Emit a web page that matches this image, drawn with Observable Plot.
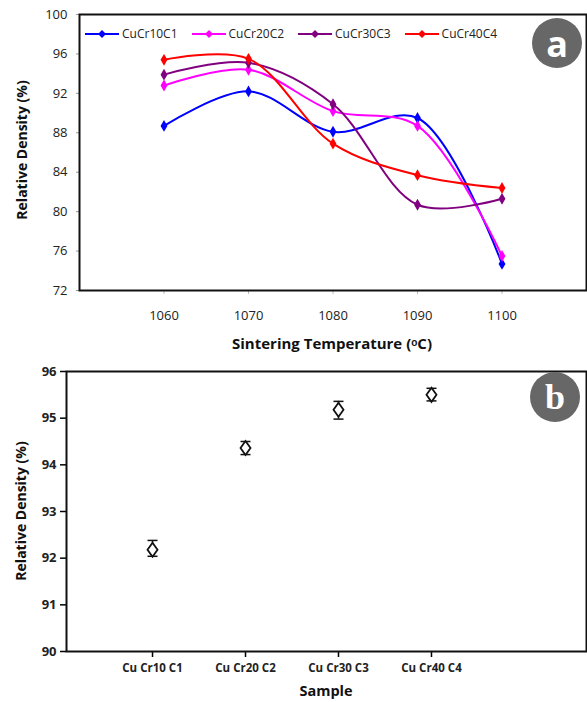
<!DOCTYPE html>
<html>
<head>
<meta charset="utf-8">
<script src="https://cdn.jsdelivr.net/npm/d3@7"></script>
<script src="https://cdn.jsdelivr.net/npm/@observablehq/plot@0.6"></script>
<style>
  body { margin: 0; background: #fff; font-family: "Open Sans", sans-serif; }
  #wrap { position: relative; width: 587px; height: 702px; overflow: hidden; }
  #wrap > svg { display: block; }
  #overlay { position: absolute; left: 0; top: 0; pointer-events: none; }
  .legend { position: absolute; left: 85px; top: 25px; display: flex; align-items: center; font-size: 12px; color: #222; }
  .legend .item { display: flex; align-items: center; margin-right: 14px; }
  .legend svg { margin-right: 3px; }
  .badge { position: absolute; width: 50px; height: 50px; border-radius: 50%; background: #676767; color: #fff; display: flex; align-items: center; justify-content: center; font-weight: bold; }
</style>
</head>
<body>
<div id="wrap"></div>
<script>
// ---------- Data ----------
const temps = [1060, 1070, 1080, 1090, 1100];
const seriesNames = ["CuCr10C1", "CuCr20C2", "CuCr30C3", "CuCr40C4"];
const seriesColors = ["#0000ff", "#ff00ff", "#800080", "#ff0000"];
const cu10 = [88.7, 92.2, 88.1, 89.5, 74.7];
const cu20 = [92.8, 94.4, 90.2, 88.7, 75.5];
const cu30 = [93.9, 95.1, 90.9, 80.7, 81.3];
const cu40 = [95.4, 95.5, 86.9, 83.7, 82.4];
const yTicksA = [72, 76, 80, 84, 88, 92, 96, 100];
const xTicksA = [1060, 1070, 1080, 1090, 1100];

const samples = ["Cu Cr10 C1", "Cu Cr20 C2", "Cu Cr30 C3", "Cu Cr40 C4"];
const density = [92.18, 94.36, 95.18, 95.5];
const errLow = [92.04, 94.22, 94.98, 95.37];
const errHigh = [92.38, 94.50, 95.36, 95.64];
const yTicksB = [90, 91, 92, 93, 94, 95, 96];

// ---------- Build tables ----------
const allSeries = [cu10, cu20, cu30, cu40];
const rowsA = [];
allSeries.forEach((vals, s) => vals.forEach((v, i) => rowsA.push({series: seriesNames[s], t: temps[i], v})));
const rowsB = samples.map((s, i) => ({i, s, v: density[i], lo: errLow[i], hi: errHigh[i]}));

const tallDiamond = {draw(ctx) { ctx.moveTo(0, -7); ctx.lineTo(5, 0); ctx.lineTo(0, 7); ctx.lineTo(-5, 0); ctx.closePath(); }};
const capLine = {draw(ctx) { ctx.moveTo(-5, 0); ctx.lineTo(5, 0); }};

const wrap = document.getElementById("wrap");
const FONT = "'Open Sans', sans-serif";

// ---------- Panel a ----------
const plotA = Plot.plot({
  width: 587, height: 358,
  marginLeft: 79, marginTop: 14, marginRight: 1, marginBottom: 68,
  style: {fontFamily: FONT, background: "#fff"},
  x: {domain: [1050, 1110]},
  y: {domain: [72, 100]},
  color: {domain: seriesNames, range: seriesColors},
  marks: [
    Plot.axisY({ticks: yTicksA, tickSize: 3, stroke: "#999", fontSize: 13, fill: "#222", tickPadding: 9, label: null}),
    Plot.axisX({ticks: xTicksA, tickSize: 4, stroke: "#bbb", fontSize: 13, fill: "#222", tickPadding: 16,
      tickFormat: d => String(d), label: null}),
    Plot.line(rowsA, {x: "t", y: "v", z: "series", stroke: "series", strokeWidth: 2, curve: "catmull-rom"}),
    Plot.dot(rowsA, {x: "t", y: "v", fill: "series", symbol: "diamond", r: 3.6}),
    Plot.frame({stroke: "#111", strokeWidth: 2})
  ]
});
wrap.appendChild(plotA);

// ---------- Panel b ----------
const plotB = Plot.plot({
  width: 587, height: 344,
  marginLeft: 66, marginTop: 13, marginRight: 1, marginBottom: 51,
  style: {fontFamily: FONT, background: "#fff"},
  x: {domain: [-0.925, 4.667]},
  y: {domain: [90, 96]},
  marks: [
    Plot.axisY({ticks: yTicksB, tickSize: 6, stroke: "#000", strokeWidth: 1.5, fontSize: 13, fontWeight: "bold", fill: "#222", tickPadding: 4,
      tickFormat: d => String(d), label: null}),
    Plot.axisX({ticks: d3.range(samples.length), tickSize: 6, stroke: "#000", strokeWidth: 1.5, fontSize: 11.5, fontWeight: "bold", fill: "#222", tickPadding: 6,
      tickFormat: i => samples[i], label: null}),
    Plot.ruleX(rowsB, {x: "i", y1: "lo", y2: "hi", stroke: "#111", strokeWidth: 1.5}),
    Plot.dot(rowsB, {x: "i", y: "lo", symbol: capLine, stroke: "#111", strokeWidth: 1.5}),
    Plot.dot(rowsB, {x: "i", y: "hi", symbol: capLine, stroke: "#111", strokeWidth: 1.5}),
    Plot.dot(rowsB, {x: "i", y: "v", symbol: tallDiamond, fill: "#fff", stroke: "#111", strokeWidth: 1.8}),
    Plot.frame({stroke: "#111", strokeWidth: 2})
  ]
});
wrap.appendChild(plotB);

// ---------- Axis titles (SVG overlay) ----------
const NS = "http://www.w3.org/2000/svg";
const ov = document.createElementNS(NS, "svg");
ov.setAttribute("id", "overlay");
ov.setAttribute("width", 587);
ov.setAttribute("height", 702);
wrap.appendChild(ov);
function addText(txt, cx, cy, size, rotate, weight) {
  const t = document.createElementNS(NS, "text");
  t.textContent = txt;
  t.setAttribute("text-anchor", "middle");
  t.setAttribute("dominant-baseline", "central");
  t.setAttribute("font-family", FONT);
  t.setAttribute("font-size", size);
  t.setAttribute("font-weight", weight || "bold");
  t.setAttribute("fill", "#111");
  t.setAttribute("transform", `translate(${cx},${cy})` + (rotate ? " rotate(-90)" : ""));
  ov.appendChild(t);
}
addText("Relative Density (%)", 21, 150, 14, true);
addText("Sintering Temperature (ᵒC)", 332, 343, 15);
addText("Relative Density (%)", 20, 511, 14, true);
addText("Sample", 326, 690, 14.5);

// ---------- Legend (panel a) ----------
const leg = document.createElement("div");
leg.className = "legend";
seriesNames.forEach((name, k) => {
  const it = document.createElement("div");
  it.className = "item";
  it.innerHTML = `<svg width="34" height="10"><line x1="0" y1="5" x2="34" y2="5" stroke="${seriesColors[k]}" stroke-width="2.2"/><path d="M17,1 L21,5 L17,9 L13,5 Z" fill="${seriesColors[k]}"/></svg><span>${name}</span>`;
  leg.appendChild(it);
});
wrap.appendChild(leg);

// ---------- Badges ----------
function badge(letter, cx, cy, font) {
  const b = document.createElement("div");
  b.className = "badge";
  b.textContent = letter;
  b.style.left = (cx - 25) + "px";
  b.style.top = (cy - 25) + "px";
  b.style.fontFamily = font;
  b.style.fontSize = "36px";
  wrap.appendChild(b);
}
badge("a", 557, 43, "'Open Sans', sans-serif");
badge("b", 555, 397, "'Liberation Serif', serif");
</script>
</body>
</html>
